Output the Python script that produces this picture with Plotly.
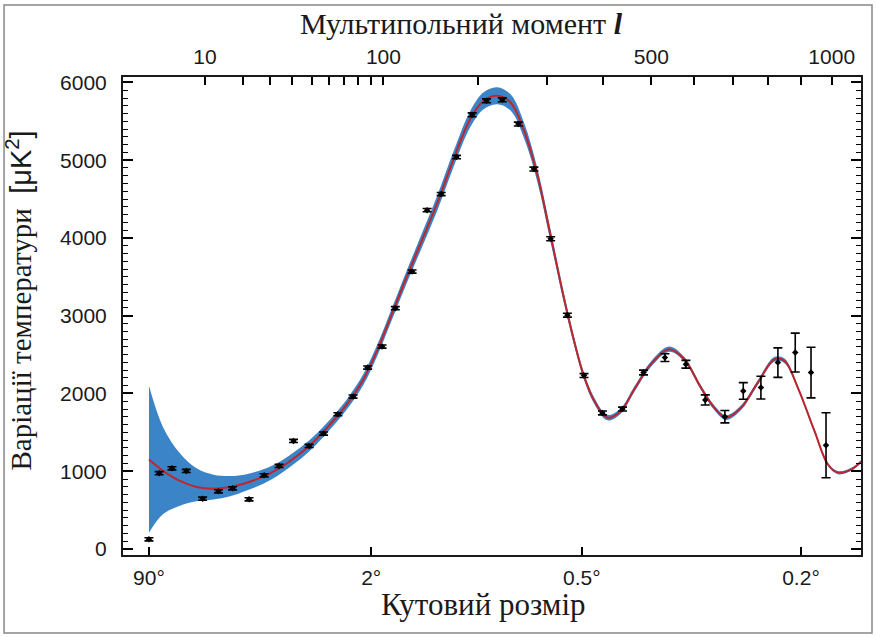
import numpy as np
import plotly.graph_objects as go

# ---------------- data ----------------
# WMAP-like measured points: multipole l, D_l [uK^2], error
pt_l = [2, 2.93, 4.4, 6.5, 9.5, 13.1, 16.9, 22.1, 27.6, 33.8, 40.5, 48.6, 56.9, 65.9,
        76.3, 87.2, 98.8, 110.3, 125.9, 141, 156, 173.4, 192.4, 210.8, 232.2, 255.3,
        279, 305.9, 334.2, 363.9, 398.6, 438.5, 482.8, 530.5, 580, 628, 679, 729,
        779, 829, 882, 932, 981]
pt_v = [125, 975, 1038, 1004, 647, 742, 781, 639, 948, 1068, 1390, 1325, 1484, 1733,
        1960, 2333, 2603, 3097, 3568, 4358, 4564, 5040, 5584, 5764, 5777, 5465,
        4886, 3990, 3007, 2230, 1750, 1800, 2270, 2462, 2376, 1917, 1702, 2033,
        2076, 2397, 2526, 2269, 1334]
pt_err = [20, 20, 20, 20, 20, 20, 20, 20, 20, 20, 20, 20, 20, 20,
          20, 20, 20, 20, 20, 20, 20, 22, 25, 25, 25, 25,
          25, 25, 25, 25, 25, 25, 30, 50, 50, 65, 80, 107,
          146, 190, 250, 326, 418]

# best-fit model curve and band (upper / lower half widths)
model_l = [2, 3.35, 5.5, 8.3, 11.9, 16.2, 21.3, 27.3, 34.3, 42.2, 51, 61, 72, 84, 95,
           106, 118, 134, 152, 170, 190, 207, 225, 244, 264, 284, 306, 328, 346, 364,
           383, 408, 435, 463, 499, 540, 576, 617, 651, 682, 723, 770, 819, 849, 890,
           943, 987, 1021, 1067, 1101]
model_v = [1150, 1004, 875, 798, 776, 798, 853, 930, 1046, 1197, 1377, 1604, 1862, 2183, 2560,
           2976, 3406, 3920, 4456, 5014, 5529, 5764, 5829, 5743, 5378, 4821, 4020, 3234, 2676, 2217,
           1904, 1690, 1776, 2055, 2377, 2570, 2441, 2076, 1818, 1690, 1818, 2140, 2441, 2419, 2076,
           1518, 1090, 982, 1025, 1123]
band_up = [950, 560, 355, 240, 180, 140, 110, 95, 80, 75, 70, 65, 65, 70, 72,
           75, 80, 90, 95, 100, 105, 110, 110, 105, 100, 90, 80, 65, 55, 45,
           40, 35, 35, 35, 35, 35, 30, 30, 30, 30, 30, 30, 30, 30, 25,
           25, 20, 20, 20, 20]
band_dn = [940, 555, 320, 185, 140, 120, 100, 90, 80, 75, 70, 65, 65, 70, 72,
           75, 80, 90, 95, 100, 105, 110, 110, 105, 100, 90, 80, 65, 55, 45,
           40, 35, 35, 35, 35, 35, 30, 30, 30, 30, 30, 30, 30, 30, 25,
           25, 20, 20, 20, 20]

top_ticks = [10, 100, 500, 1000]
top_minor = [20, 30, 40, 50, 60, 70, 80, 90, 200, 300, 400, 600, 700, 800, 900]
bottom_l = [2, 90, 360, 900]
bottom_text = ["90°", "2°", "0.5°", "0.2°"]
y_ticks = [0, 1000, 2000, 3000, 4000, 5000, 6000]

# ---------------- axis scale: x ~ l^0.4 ----------------
P = 0.4
def lpos(l):
    return np.asarray(l, dtype=float) ** P

x_range = [0.767, 16.472]
y_range = [-77, 6070]

m_x = lpos(model_l)
m_v = np.array(model_v, float)
hi = m_v + np.array(band_up, float)
lo = m_v - np.array(band_dn, float)

BLUE = "#3b84c8"
RED = "#bf262c"
INK = "#1a1a1a"
SERIF = "Liberation Serif, Times New Roman, serif"
SANS = "Liberation Sans, Arial, sans-serif"

fig = go.Figure()
fig.add_trace(go.Scatter(x=m_x, y=lo, mode="lines", line=dict(width=0, color=BLUE, shape="spline"),
                         hoverinfo="skip", showlegend=False))
fig.add_trace(go.Scatter(x=m_x, y=hi, mode="lines", line=dict(width=0, color=BLUE, shape="spline"),
                         fill="tonexty", fillcolor=BLUE, hoverinfo="skip", showlegend=False))
fig.add_trace(go.Scatter(x=m_x, y=m_v, mode="lines", line=dict(width=2, color=RED, shape="spline"),
                         showlegend=False))
fig.add_trace(go.Scatter(x=lpos(pt_l), y=pt_v, mode="markers",
                         marker=dict(color="black", size=5, symbol="diamond"),
                         error_y=dict(type="data", array=pt_err, visible=True, color="black",
                                      thickness=1.6, width=4.5),
                         showlegend=False))
# dummy trace so the top axis is rendered
fig.add_trace(go.Scatter(x=[lpos(10)], y=[None], xaxis="x2", mode="markers", showlegend=False,
                         hoverinfo="skip"))

top_vals = list(lpos(top_ticks)) + list(lpos(top_minor))
top_text = [str(t) for t in top_ticks] + [""] * len(top_minor)

fig.update_layout(
    width=876, height=637,
    margin=dict(l=123, r=15, t=77, b=82),
    paper_bgcolor="white", plot_bgcolor="white",
    xaxis=dict(range=x_range, tickmode="array", tickvals=list(lpos(bottom_l)), ticktext=bottom_text,
               ticks="inside", ticklen=8, tickwidth=1.5, tickcolor="black",
               showline=True, linecolor=INK, linewidth=2, showgrid=False, zeroline=False,
               tickfont=dict(family=SANS, size=21, color=INK), ticklabelstandoff=3),
    xaxis2=dict(range=x_range, overlaying="x", side="top", anchor="y", tickmode="array",
                tickvals=top_vals, ticktext=top_text,
                ticks="inside", ticklen=8, tickwidth=1.5, tickcolor="black",
                showline=True, linecolor=INK, linewidth=2, showgrid=False, zeroline=False,
                tickfont=dict(family=SANS, size=21, color=INK), ticklabelstandoff=3),
    yaxis=dict(range=y_range, tickmode="array", tickvals=y_ticks,
               ticks="inside", ticklen=10, tickwidth=1.5, tickcolor="black",
               minor=dict(dtick=100, tick0=0, ticks="inside", ticklen=5, tickwidth=1, tickcolor="black",
                          showgrid=False),
               showline=True, linecolor=INK, linewidth=2, mirror="ticks",
               showgrid=False, zeroline=False,
               tickfont=dict(family=SANS, size=21, color=INK), ticklabelstandoff=10),
    annotations=[
        dict(text="Мультипольний момент <b><i>l</i></b>", xref="paper", yref="paper",
             x=0.458, y=1.112, xanchor="center", yanchor="middle", showarrow=False,
             font=dict(family=SERIF, size=30, color=INK)),
        dict(text="Кутовий розмір", xref="paper", yref="paper",
             x=0.488, y=-0.1046, xanchor="center", yanchor="middle", showarrow=False,
             font=dict(family=SERIF, size=31, color=INK)),
        dict(text="Варіації температури  <span style=\"font-family:Liberation Sans\">[μK<sup>2</sup>]</span>",
             xref="paper", yref="paper", x=-0.1405, y=0.533, xanchor="center", yanchor="middle",
             textangle=-90, showarrow=False, font=dict(family=SERIF, size=29, color=INK)),
    ],
    shapes=[dict(type="rect", xref="paper", yref="paper", x0=-0.1612, x1=1.0149, y0=-0.1632, y1=1.1506,
                 line=dict(color="#888", width=1.5), layer="below")],
)

fig.write_html("out.html", config={"displayModeBar": False},
               post_script="document.body.style.margin='0';")
